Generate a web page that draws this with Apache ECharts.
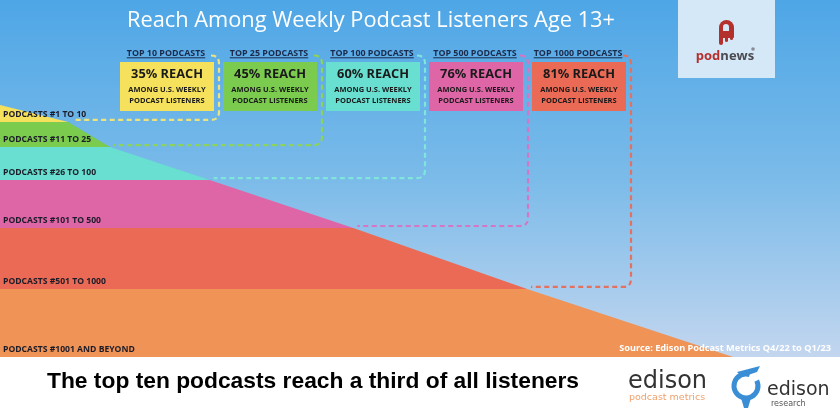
<!DOCTYPE html>
<html>
<head>
<meta charset="utf-8">
<script src="https://cdn.jsdelivr.net/npm/echarts@6/dist/echarts.min.js"></script>
<style>
html,body{margin:0;padding:0;background:#fff;}
#chart{width:840px;height:420px;}
</style>
</head>
<body>
<div id="chart"></div>
<script>
// ---------------- DATA ----------------
const bandNames = ['PODCASTS #1 TO 10', 'PODCASTS #11 TO 25', 'PODCASTS #26 TO 100', 'PODCASTS #101 TO 500', 'PODCASTS #501 TO 1000', 'PODCASTS #1001 AND BEYOND'];
// vertical level of each band boundary (top of chart = 100)
const boundaryLevels = [100, 93.3, 83.3, 70.2, 51.2, 27.0, 0];
// horizontal extent of the shape at each boundary (full width = 100)
const boundaryEdge = [0, 9.3, 15.0, 28.6, 48.2, 71.9, 100];
const boxHeaders = ['TOP 10 PODCASTS', 'TOP 25 PODCASTS', 'TOP 100 PODCASTS', 'TOP 500 PODCASTS', 'TOP 1000 PODCASTS'];
const reachValues = [35, 45, 60, 76, 81];
const reachLines = ['AMONG U.S. WEEKLY', 'PODCAST LISTENERS'];
const titleText = 'Reach Among Weekly Podcast Listeners Age 13+';
const sourceText = 'Source: Edison Podcast Metrics Q4/22 to Q1/23';
const taglineText = 'The top ten podcasts reach a third of all listeners';

// ---------------- STYLE ----------------
const bandColors = ['#F6E15C', '#7ACB4E', '#68DFD0', '#DE66A7', '#EB6A55', '#EF9357'];
const dashColors = ['#EDE37C', '#8CD35C', '#80E5DA', '#D575C3', '#E4705F'];
const darkText = '#1c1c28';
const boxW = 94, boxH = 49, boxTop = 62, boxCx0 = 167, boxStep = 103;

const mctx = document.createElement('canvas').getContext('2d');
function tw(t, font) { mctx.font = font; return mctx.measureText(t).width; }

const chart = echarts.init(document.getElementById('chart'), null, {renderer: 'canvas'});

const graphic = [];
// background gradient
graphic.push({type: 'rect', z: -100, shape: {x: 0, y: 0, width: 840, height: 358},
  style: {fill: new echarts.graphic.LinearGradient(0, 0, 0, 1, [
    {offset: 0, color: '#4EA6E6'}, {offset: 0.5, color: '#7BBBE9'}, {offset: 1, color: '#C3D6EF'}])}});
graphic.push({type: 'rect', z: -100, shape: {x: 0, y: 357, width: 840, height: 63}, style: {fill: '#FFFFFF'}});

// title
graphic.push({type: 'text', z: 100, x: 371, y: 21, style: {text: titleText, fill: '#FFFFFF',
  font: '21.8px "Open Sans", sans-serif', textAlign: 'center', textVerticalAlign: 'middle'}});

// boxes
boxHeaders.forEach((h, i) => {
  const cx = boxCx0 + i * boxStep;
  const hf = 'bold 8.9px "Open Sans", sans-serif';
  const w = tw(h, hf);
  graphic.push({type: 'text', z: 100, x: cx - 1, y: 53, style: {text: h, fill: '#1B2A4A', font: hf, textAlign: 'center', textVerticalAlign: 'middle'}});
  graphic.push({type: 'line', z: 100, shape: {x1: cx - 1 - w / 2, y1: 57.8, x2: cx - 1 + w / 2, y2: 57.8}, style: {stroke: '#1B2A4A', lineWidth: 1}});
  graphic.push({type: 'rect', z: 90, shape: {x: cx - boxW / 2, y: boxTop, width: boxW, height: boxH}, style: {fill: bandColors[i]}});
  graphic.push({type: 'text', z: 100, x: cx, y: 74, style: {text: reachValues[i] + '% REACH', fill: '#1a1a1a',
    font: 'bold 12.8px "Open Sans", sans-serif', textAlign: 'center', textVerticalAlign: 'middle'}});
  reachLines.forEach((l, j) => {
    graphic.push({type: 'text', z: 100, x: cx, y: 90 + j * 10.5, style: {text: l, fill: '#1a1a1a',
      font: 'bold 7.5px "Open Sans", sans-serif', textAlign: 'center', textVerticalAlign: 'middle'}});
  });
});

// source
graphic.push({type: 'text', z: 100, x: 831, y: 348, style: {text: sourceText, fill: '#FFFFFF',
  font: 'bold 9.2px "Noto Sans", sans-serif', textAlign: 'right', textVerticalAlign: 'middle'}});

// tagline
graphic.push({type: 'text', z: 100, x: 47, y: 382, style: {text: taglineText, fill: '#000000',
  font: 'bold 22.8px "Liberation Sans Narrow", "Liberation Sans", sans-serif', textAlign: 'left', textVerticalAlign: 'middle'}});

// podnews logo
graphic.push({type: 'rect', z: 50, shape: {x: 678, y: 0, width: 97, height: 78}, style: {fill: '#D5E8F7'}});
graphic.push({type: 'rect', z: 60, shape: {x: 719, y: 20, width: 15, height: 18, r: [7.5, 7.5, 1, 1]}, style: {fill: '#B3302C'}});
graphic.push({type: 'rect', z: 61, shape: {x: 723, y: 24, width: 6, height: 7, r: [3, 3, 0, 0]}, style: {fill: '#D5E8F7'}});
graphic.push({type: 'rect', z: 60, shape: {x: 719, y: 36, width: 4, height: 9, r: [0, 0, 2, 2]}, style: {fill: '#B3302C'}});
graphic.push({type: 'rect', z: 60, shape: {x: 725, y: 36, width: 3, height: 6, r: [0, 0, 1.5, 1.5]}, style: {fill: '#B3302C'}});
graphic.push({type: 'rect', z: 60, shape: {x: 730, y: 36, width: 3, height: 4, r: [0, 0, 1.5, 1.5]}, style: {fill: '#B3302C'}});
graphic.push({type: 'text', z: 60, x: 725, y: 56, style: {
  text: '{a|pod}{b|news}', textAlign: 'center', textVerticalAlign: 'middle',
  rich: {a: {fill: '#B3302C', font: 'bold 13px "Open Sans", sans-serif'}, b: {fill: '#4A4A50', font: 'bold 13px "Open Sans", sans-serif'}}}});
graphic.push({type: 'circle', z: 60, shape: {cx: 753, cy: 49, r: 1.8}, style: {fill: '#8A8A95'}});

// edison podcast metrics logo
graphic.push({type: 'text', z: 100, x: 628, y: 382, style: {text: 'edison', fill: '#333333',
  font: '24px "DejaVu Sans", sans-serif', textAlign: 'left', textVerticalAlign: 'middle'}});
graphic.push({type: 'text', z: 100, x: 629, y: 398, style: {text: 'podcast metrics', fill: '#F0A16C',
  font: '9.5px "DejaVu Sans", sans-serif', textAlign: 'left', textVerticalAlign: 'middle'}});

// edison research logo
graphic.push({type: 'arc', z: 100, shape: {cx: 746, cy: 386, r: 12, startAngle: -Math.PI * 0.15, endAngle: Math.PI * 1.6}, style: {stroke: '#3A8ED6', lineWidth: 5, fill: null}});
graphic.push({type: 'polygon', z: 100, shape: {points: [[737, 372], [760, 366], [757, 372], [742, 377]]}, style: {fill: '#3A8ED6'}});
graphic.push({type: 'polygon', z: 100, shape: {points: [[741, 398], [751, 398], [748, 408], [744, 408]]}, style: {fill: '#3A8ED6'}});
graphic.push({type: 'text', z: 100, x: 767, y: 390, style: {text: 'edison', fill: '#333333',
  font: '19px "DejaVu Sans", sans-serif', textAlign: 'left', textVerticalAlign: 'middle'}});
graphic.push({type: 'text', z: 100, x: 771, y: 404, style: {text: 'research', fill: '#555555',
  font: '8px "DejaVu Sans", sans-serif', textAlign: 'left', textVerticalAlign: 'middle'}});

const option = {
  animation: false,
  grid: {left: 0, right: 107, top: 105, bottom: 63},
  xAxis: {type: 'value', min: 0, max: 100, show: false},
  yAxis: {type: 'value', min: 0, max: 100, show: false},
  graphic: graphic,
  series: [
    {
      type: 'custom', name: 'bands', z: 2, clip: false,
      data: bandNames.map((n, i) => [boundaryEdge[i + 1], boundaryLevels[i + 1], i]),
      renderItem: function (params, api) {
        const i = params.dataIndex;
        const p0 = api.coord([0, boundaryLevels[i]]);
        const p1 = api.coord([boundaryEdge[i], boundaryLevels[i]]);
        const p2 = api.coord([boundaryEdge[i + 1], boundaryLevels[i + 1]]);
        const p3 = api.coord([0, boundaryLevels[i + 1]]);
        return {
          type: 'group',
          children: [
            {type: 'polygon', shape: {points: [p0, p1, p2, p3]}, style: {fill: bandColors[i]}},
            {type: 'text', z2: 10, x: p3[0] + 3, y: p3[1] - 7.5, style: {text: bandNames[i], fill: darkText,
              font: 'bold 8.6px "Open Sans", sans-serif', textAlign: 'left', textVerticalAlign: 'middle'}}
          ]
        };
      }
    },
    {
      type: 'custom', name: 'connectors', z: 3, clip: false,
      data: reachValues.map((v, i) => [boundaryEdge[i + 1], boundaryLevels[i + 1], v]),
      renderItem: function (params, api) {
        const i = params.dataIndex;
        const tip = api.coord([boundaryEdge[i + 1], boundaryLevels[i + 1]]);
        const vx = boxCx0 + i * boxStep + boxW / 2 + 5;
        const ty = 55.5, r = 8;
        const hy = tip[1] - 2;
        const d = 'M' + (vx - r) + ' ' + ty + ' Q' + vx + ' ' + ty + ' ' + vx + ' ' + (ty + r) +
          ' L' + vx + ' ' + (hy - r) + ' Q' + vx + ' ' + hy + ' ' + (vx - r) + ' ' + hy +
          ' L' + (tip[0] + 4) + ' ' + hy;
        return {type: 'path', shape: {pathData: d}, style: {fill: null, stroke: dashColors[i], lineWidth: 2.2, lineDash: [5, 3.5]}};
      }
    }
  ]
};
chart.setOption(option);
</script>
</body>
</html>
